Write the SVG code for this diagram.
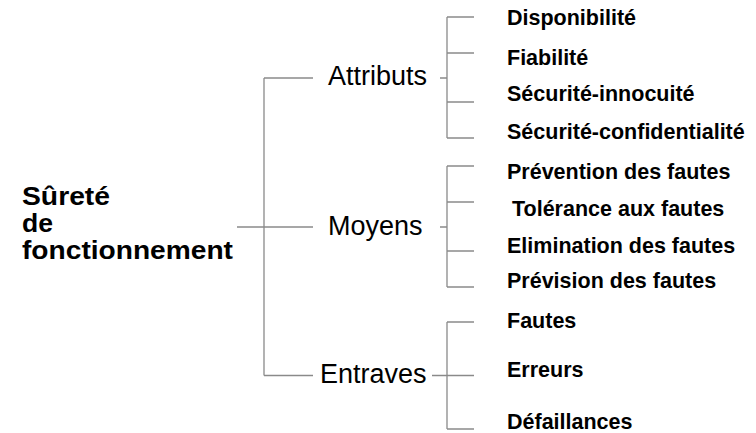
<svg xmlns="http://www.w3.org/2000/svg" width="756" height="433" viewBox="0 0 756 433">
  <style>
    .ln { stroke: #8a8a8a; stroke-width: 1.3; fill: none; }
    .root { font-family: "Liberation Sans", Arial, sans-serif; font-weight: bold; font-size: 26px; fill: #000; }
    .mid { font-family: "Liberation Sans", Arial, sans-serif; font-size: 27px; fill: #000; }
    .leaf { font-family: "Liberation Sans", Arial, sans-serif; font-weight: bold; font-size: 21.5px; fill: #000; }
  </style>
  <rect width="756" height="433" fill="#fff"/>

  <g id="connectors">
    <!-- root trunk -->
    <path class="ln" d="M264 78 V375.5 M264 78 H313 M237 227 H313 M264 375.5 H313"/>
    <!-- Attributs bracket -->
    <path class="ln" d="M440 78 H447 M447 17 V138 M447 17 H474 M447 53 H474 M447 102 H474 M447 138 H474"/>
    <!-- Moyens bracket -->
    <path class="ln" d="M440 227 H447 M447 166 V287 M447 166 H474 M447 202 H474 M447 251 H474 M447 287 H474"/>
    <!-- Entraves bracket -->
    <path class="ln" d="M432 375.5 H474 M447 322 V429 M447 322 H474 M447 429 H474"/>
  </g>

  <g id="root">
    <text class="root" x="22" y="205" textLength="88" lengthAdjust="spacingAndGlyphs">Sûreté</text>
    <text class="root" x="22" y="232" textLength="31" lengthAdjust="spacingAndGlyphs">de</text>
    <text class="root" x="22" y="259" textLength="211" lengthAdjust="spacingAndGlyphs">fonctionnement</text>
  </g>

  <g id="attributs"><text class="mid" x="328" y="85">Attributs</text></g>
  <g id="moyens"><text class="mid" x="328" y="235">Moyens</text></g>
  <g id="entraves"><text class="mid" x="320" y="383">Entraves</text></g>

  <g id="disponibilite"><text class="leaf" x="507" y="25">Disponibilité</text></g>
  <g id="fiabilite"><text class="leaf" x="507" y="65">Fiabilité</text></g>
  <g id="securite-innocuite"><text class="leaf" x="507" y="101">Sécurité-innocuité</text></g>
  <g id="securite-confidentialite"><text class="leaf" x="507" y="139">Sécurité-confidentialité</text></g>

  <g id="prevention"><text class="leaf" x="507" y="179">Prévention des fautes</text></g>
  <g id="tolerance"><text class="leaf" x="512" y="216">Tolérance aux fautes</text></g>
  <g id="elimination"><text class="leaf" x="507" y="253">Elimination des fautes</text></g>
  <g id="prevision"><text class="leaf" x="507" y="288">Prévision des fautes</text></g>

  <g id="fautes"><text class="leaf" x="507" y="328">Fautes</text></g>
  <g id="erreurs"><text class="leaf" x="507" y="377">Erreurs</text></g>
  <g id="defaillances"><text class="leaf" x="507" y="429">Défaillances</text></g>
</svg>
